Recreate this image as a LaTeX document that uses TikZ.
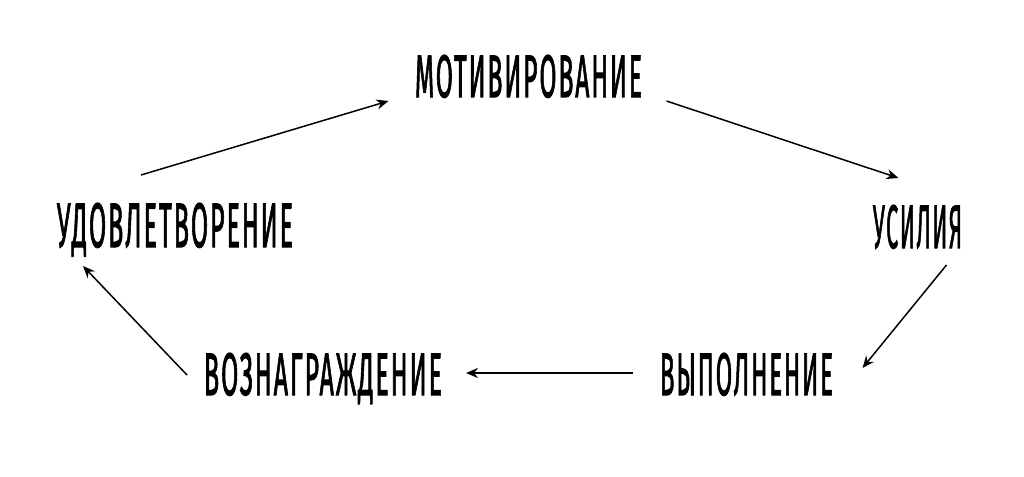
\documentclass[tikz,border=0pt]{standalone}
\usepackage{fontspec}
\newfontfamily\lblfont{Fira Sans}[FakeBold=2.2, LetterSpace=8]
\usetikzlibrary{arrows.meta}
\newcommand{\lbl}[3]{\resizebox{#1}{#2}{\lblfont #3}}
\tikzset{
  lab/.style={inner sep=0pt, anchor=base},
  conn/.style={line width=0.75pt, -{Stealth[length=6pt,width=5pt]}}
}
\begin{document}
\begin{tikzpicture}[x=0.5pt,y=-0.5pt]
\useasboundingbox (0,0) rectangle (1024,477);
\node[lab] (motiv) at (528.5,97) {\lbl{113.5pt}{21pt}{МОТИВИРОВАНИЕ}};
\node[lab] (ud) at (175,247) {\lbl{118pt}{22pt}{УДОВЛЕТВОРЕНИЕ}};
\node[lab] (us) at (917.5,248) {\lbl{44.5pt}{21.5pt}{УСИЛИЯ}};
\node[lab] (voz) at (323,395) {\lbl{119pt}{21pt}{ВОЗНАГРАЖДЕНИЕ}};
\node[lab] (vyp) at (746.5,395) {\lbl{86.5pt}{21pt}{ВЫПОЛНЕНИЕ}};
\draw[conn] ([shift={(-34,-72)}]ud.base) -- ([shift={(-140,4)}]motiv.base);
\draw[conn] ([shift={(138,4)}]motiv.base) -- ([shift={(-19,-70)}]us.base);
\draw[conn] ([shift={(29,17)}]us.base) -- ([shift={(116,-27)}]vyp.base);
\draw[conn] ([shift={(-114,-22)}]vyp.base) -- ([shift={(143,-22)}]voz.base);
\draw[conn] ([shift={(-136,-20)}]voz.base) -- ([shift={(-92,19)}]ud.base);
\end{tikzpicture}
\end{document}
